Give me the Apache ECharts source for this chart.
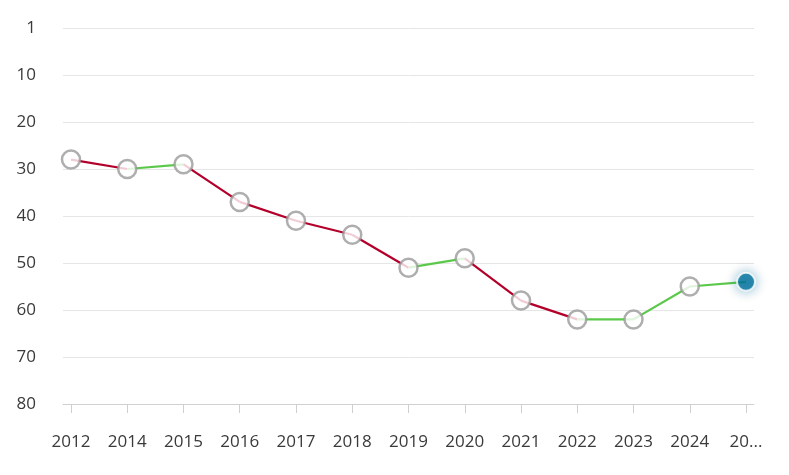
<!DOCTYPE html>
<html>
<head>
<meta charset="utf-8">
<script src="https://cdn.jsdelivr.net/npm/echarts@6/dist/echarts.min.js"></script>
<style>
    html, body { margin: 0; padding: 0; background: #fff; }
    #chart { width: 789px; height: 475px; }
</style>
</head>
<body>
<div id="chart"></div>
<script>
// ranking per year (lower is better)
const years = ['2012', '2014', '2015', '2016', '2017', '2018', '2019', '2020', '2021', '2022', '2023', '2024', '2025'];
const xLabels = ['2012', '2014', '2015', '2016', '2017', '2018', '2019', '2020', '2021', '2022', '2023', '2024', '20...'];
const ranks = [28, 30, 29, 37, 41, 44, 51, 49, 58, 62, 62, 55, 54];

const RED = '#b3002b';
const GREEN = '#5cc84b';

let chart = echarts.init(document.getElementById('chart'));

// one line series per segment: red when the rank gets worse, green otherwise
let segments = [];
for (let i = 0; i < ranks.length - 1; i++) {
    let worse = ranks[i + 1] > ranks[i];
    segments.push({
        type: 'line',
        data: [[i, ranks[i]], [i + 1, ranks[i + 1]]],
        symbol: 'none',
        silent: true,
        z: 1,
        lineStyle: { color: worse ? RED : GREEN, width: 2.2 }
    });
}

let last = ranks.length - 1;
let points = ranks.map((v, i) => {
    if (i === last) {
        return {
            value: [i, v],
            symbolSize: 18,
            itemStyle: {
                color: '#03729c',
                borderColor: '#fff',
                borderWidth: 2,
                shadowColor: 'rgba(3,114,156,0.55)',
                shadowBlur: 12
            }
        };
    }
    return [i, v];
});

let option = {
    animation: false,
    grid: {
        left: 63,
        right: 35,
        top: 28,
        bottom: 71
    },
    xAxis: {
        type: 'value',
        position: 'bottom',
        min: -0.142,
        max: 12.142,
        splitLine: { show: false },
        axisLine: { show: true, onZero: false, lineStyle: { color: '#d0d0d0' } },
        axisTick: {
            show: true,
            length: 9,
            customValues: years.map((y, i) => i),
            lineStyle: { color: '#d0d0d0' }
        },
        axisLabel: {
            customValues: years.map((y, i) => i),
            formatter: function (value) {
                return xLabels[Math.round(value)];
            },
            color: '#3a3a3a',
            fontSize: 17,
            fontFamily: 'Open Sans',
            margin: 30
        }
    },
    yAxis: {
        type: 'value',
        inverse: true,
        min: 0,
        max: 80,
        interval: 10,
        axisLine: { show: false },
        axisTick: { show: false },
        splitLine: { lineStyle: { color: '#e6e6e6', width: 1 } },
        axisLabel: {
            formatter: function (value) {
                return value === 0 ? '1' : String(value);
            },
            color: '#3a3a3a',
            fontSize: 17,
            fontFamily: 'Open Sans',
            margin: 27
        }
    },
    series: [
        ...segments,
        {
            type: 'scatter',
            data: points,
            symbol: 'circle',
            symbolSize: 18,
            z: 3,
            itemStyle: {
                color: '#fff',
                borderColor: '#9a9a9a',
                borderWidth: 2.5
            }
        }
    ]
};

chart.setOption(option);
</script>
</body>
</html>
